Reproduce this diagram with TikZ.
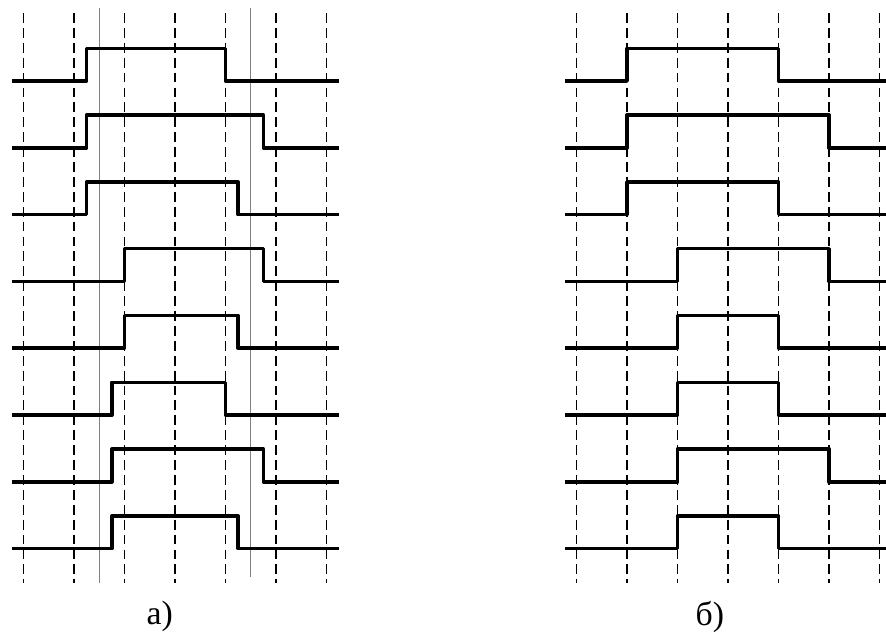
\documentclass[tikz,border=0pt]{standalone}
\usepackage{fontspec}
\setmainfont{Liberation Serif}
\begin{document}
\begin{tikzpicture}[x=1.2625cm, y=1.67cm,
    gridline/.style={dash pattern=on 7pt off 3.6pt, line width=1.25pt},
    signal/.style={line width=2.5pt, line join=round},
    marker/.style={gray, line width=0.7pt},
    caption/.style={font=\fontsize{24}{28}\selectfont}]

        \useasboundingbox (-0.465,-1.263) rectangle (17.079,8.213);

        % dashed clock grid, both panels
        \foreach \dx in {0,10.95}
            \foreach \k in {0,...,6}
                \draw[gridline] (\dx+\k,8.018) -- (\dx+\k,-0.515);

        % a) pulses with jittered edges
        \draw[marker] (1.5,8.093) -- (1.5,-0.515);
        \draw[marker] (4.5,8.093) -- (4.5,-0.425);
        \foreach \y/\a/\b in {7/1.25/4, 6/1.25/4.75, 5/1.25/4.25, 4/2/4.75,
                              3/2/4.25, 2/1.75/4, 1/1.75/4.75, 0/1.75/4.25}
            \draw[signal] (-0.23,\y) -| (\a,\y+0.49) -| (\b,\y) -- (6.25,\y);

        % b) edges moved onto the grid
        \begin{scope}[shift={(10.95,0)}]
            \foreach \y/\a/\b in {7/1/4, 6/1/5, 5/1/4, 4/2/5,
                                  3/2/4, 2/2/4, 1/2/5, 0/2/4}
                \draw[signal] (-0.23,\y) -| (\a,\y+0.49) -| (\b,\y) -- (6.12,\y);
        \end{scope}

        \node[caption] (capa) at (2.70,-1.02) {а)};
        \node[caption] (capb) at (13.59,-1.02) {б)};

    \end{tikzpicture}
\end{document}
